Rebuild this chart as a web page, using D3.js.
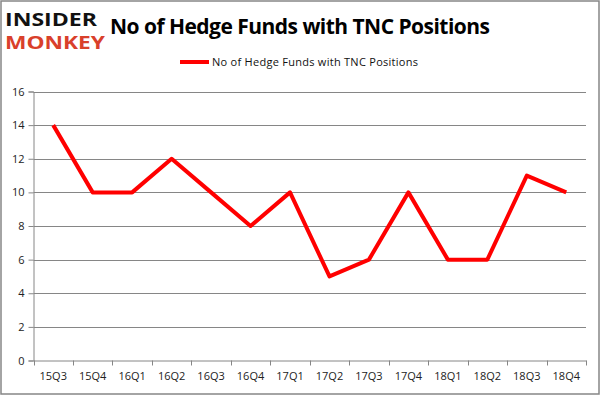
<!DOCTYPE html>
<html>
<head>
<meta charset="utf-8">
<script src="https://cdn.jsdelivr.net/npm/d3@7"></script>
<style>
  body { margin: 0; background: #fff; }
  text { font-family: "Open Sans", "DejaVu Sans", sans-serif; }
</style>
</head>
<body>
<div id="chart"></div>
<script>
const quarters = ["15Q3", "15Q4", "16Q1", "16Q2", "16Q3", "16Q4", "17Q1",
  "17Q2", "17Q3", "17Q4", "18Q1", "18Q2", "18Q3", "18Q4"];
const fundCounts = [14, 10, 10, 12, 10, 8, 10, 5, 6, 10, 6, 6, 11, 10];
const yTicks = [0, 2, 4, 6, 8, 10, 12, 14, 16];
const seriesName = "No of Hedge Funds with TNC Positions";
const titleText = "No of Hedge Funds with TNC Positions";

const width = 601, height = 396;
const plot = { left: 33.5, right: 586, top: 91.5, bottom: 360.5 };

const svg = d3.select("#chart").append("svg")
  .attr("width", width)
  .attr("height", height);

// outer frame
svg.append("rect")
  .attr("x", 1).attr("y", 1)
  .attr("width", width - 3).attr("height", height - 3)
  .attr("fill", "#fff")
  .attr("stroke", "#868686")
  .attr("stroke-width", 1.5);

// x: one band per quarter, points in the middle
const x = d3.scaleBand()
  .domain(quarters)
  .range([plot.left, plot.right]);

const y = d3.scaleLinear()
  .domain([0, 16])
  .range([plot.bottom, plot.top]);

// gridlines
svg.append("g")
  .selectAll("line")
  .data(yTicks.filter(d => d > 0))
  .join("line")
  .attr("x1", plot.left)
  .attr("x2", plot.right)
  .attr("y1", d => Math.round(y(d)) + 0.5)
  .attr("y2", d => Math.round(y(d)) + 0.5)
  .attr("stroke", "#868686")
  .attr("stroke-width", 1);

// y axis
const yAxis = svg.append("g")
  .attr("transform", `translate(${plot.left},0)`)
  .call(d3.axisLeft(y).tickValues(yTicks).tickSize(5).tickPadding(4));
yAxis.select(".domain").attr("stroke", "#868686");
yAxis.selectAll(".tick line").attr("stroke", "#868686");
yAxis.selectAll(".tick text")
  .attr("font-size", 11)
  .attr("fill", "#222");

// x axis with ticks at band boundaries
const xAxis = svg.append("g")
  .attr("transform", `translate(0,${plot.bottom})`)
  .call(d3.axisBottom(x).tickSize(0).tickPadding(12));
xAxis.select(".domain").attr("stroke", "#868686");
xAxis.selectAll(".tick text")
  .attr("font-size", 11)
  .attr("fill", "#222");
svg.append("g")
  .selectAll("line")
  .data(quarters.concat([null]))
  .join("line")
  .attr("x1", (d, i) => Math.round(plot.left + i * x.step()) + 0.5)
  .attr("x2", (d, i) => Math.round(plot.left + i * x.step()) + 0.5)
  .attr("y1", plot.bottom)
  .attr("y2", plot.bottom + 5)
  .attr("stroke", "#868686");

// series line
const line = d3.line()
  .x((d, i) => x(quarters[i]) + x.bandwidth() / 2)
  .y(d => y(d));

svg.append("path")
  .datum(fundCounts)
  .attr("d", line)
  .attr("fill", "none")
  .attr("stroke", "#ff0000")
  .attr("stroke-width", 4)
  .attr("stroke-linejoin", "round");

// title
svg.append("text")
  .attr("x", 300)
  .attr("y", 34)
  .attr("text-anchor", "middle")
  .attr("font-size", 21)
  .attr("font-weight", "bold")
  .attr("fill", "#000")
  .attr("textLength", 380)
  .text(titleText);

// legend
svg.append("line")
  .attr("x1", 180).attr("x2", 209)
  .attr("y1", 62).attr("y2", 62)
  .attr("stroke", "#ff0000")
  .attr("stroke-width", 4);
svg.append("text")
  .attr("x", 212)
  .attr("y", 66)
  .attr("font-size", 11)
  .attr("fill", "#111")
  .attr("textLength", 206)
  .text(seriesName);

// logo
svg.append("text")
  .attr("x", 5).attr("y", 26)
  .attr("font-family", "DejaVu Sans")
  .attr("font-weight", "bold")
  .attr("font-size", 17)
  .attr("textLength", 92)
  .attr("lengthAdjust", "spacingAndGlyphs")
  .attr("fill", "#111")
  .text("INSIDER");
svg.append("text")
  .attr("x", 5).attr("y", 49)
  .attr("font-family", "DejaVu Sans")
  .attr("font-weight", "bold")
  .attr("font-size", 17)
  .attr("textLength", 100)
  .attr("lengthAdjust", "spacingAndGlyphs")
  .attr("fill", "#d9402b")
  .text("MONKEY");
</script>
</body>
</html>
